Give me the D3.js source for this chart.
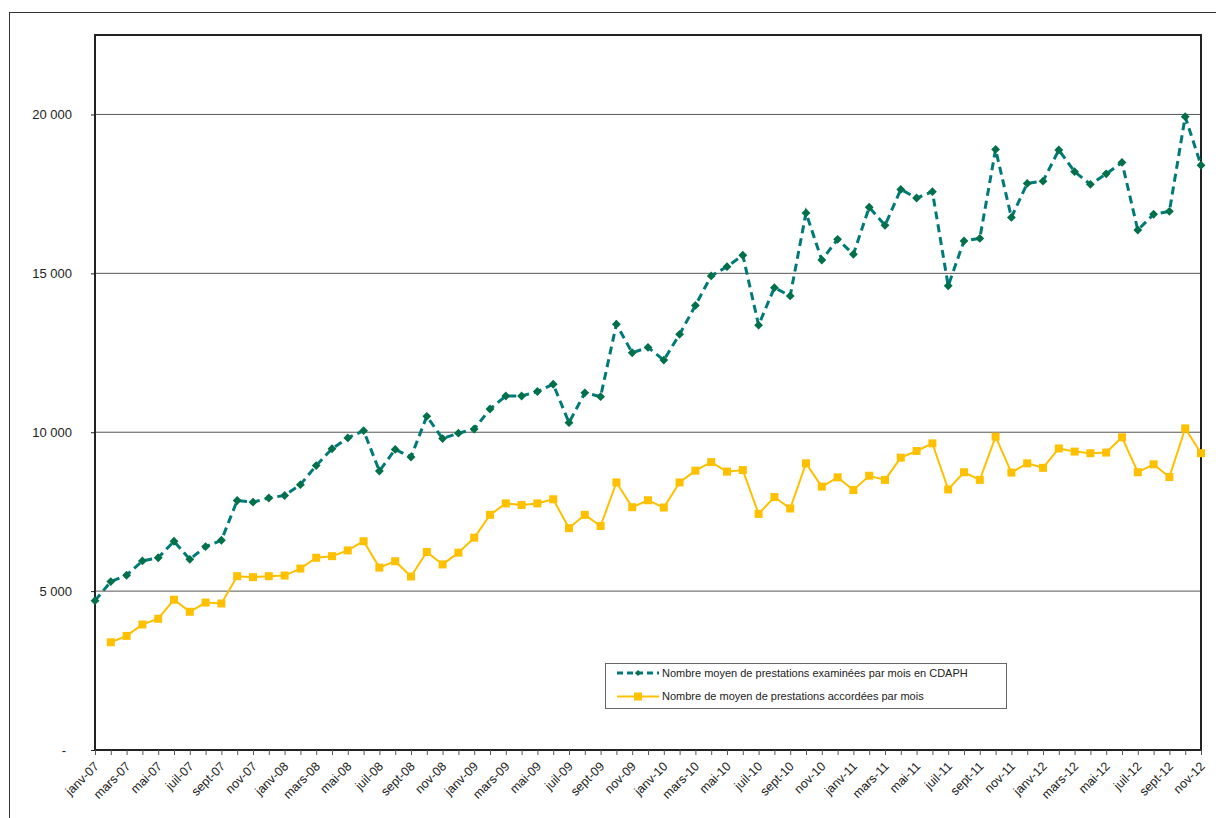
<html lang="fr">
<head>
<meta charset="UTF-8">
<title>Prestations CDAPH</title>
<style>
  body { margin: 0; background: #fff; }
  text { font-family: "Liberation Sans", Arial, sans-serif; fill: #222; }
</style>
</head>
<body>
<script src="https://d3js.org/d3.v7.min.js"></script>
<div id="chart"></div>
<script>
// month labels
var monthNames = ["janv", "févr", "mars", "avr", "mai", "juin", "juil", "août", "sept", "oct", "nov", "déc"];
var years = ["07", "08", "09", "10", "11", "12"];
var nMonths = 71;

// series values
var examinees = [4700, 5300, 5500, 5950, 6050, 6570, 6000, 6400, 6600, 7850, 7800, 7930,
  8010, 8350, 8950, 9480, 9820, 10050, 8780, 9460, 9220, 10500, 9800, 9970,
  10100, 10730, 11140, 11140, 11280, 11510, 10300, 11240, 11120, 13400, 12500, 12670,
  12270, 13080, 13990, 14920, 15210, 15570, 13370, 14550, 14290, 16900, 15420, 16070,
  15600, 17080, 16510, 17640, 17370, 17570, 14610, 16020, 16100, 18900, 16760, 17830,
  17900, 18880, 18200, 17800, 18130, 18490, 16360, 16860, 16950, 19930, 18400];

var accordees = [null, 3390, 3590, 3950, 4130, 4730, 4350, 4640, 4610, 5470, 5440, 5470,
  5490, 5710, 6050, 6100, 6280, 6570, 5740, 5940, 5460, 6230, 5840, 6210,
  6680, 7400, 7760, 7710, 7760, 7890, 6980, 7400, 7050, 8420, 7640, 7860,
  7630, 8420, 8790, 9060, 8760, 8810, 7430, 7960, 7600, 9020, 8290, 8580,
  8180, 8630, 8500, 9200, 9410, 9650, 8200, 8740, 8500, 9860, 8730, 9020,
  8880, 9490, 9390, 9340, 9360, 9840, 8740, 8990, 8590, 10120, 9340];

var yTicks = [0, 5000, 10000, 15000, 20000];
var legendLabels = ["Nombre moyen de prestations examinées par mois en CDAPH",
  "Nombre de moyen de prestations accordées par mois"];

var categories = [];
for (var i = 0; i < nMonths; i++) {
  categories.push(monthNames[i % 12] + "-" + years[Math.floor(i / 12)]);
}

var W = 1216, H = 818;
var margin = {top: 35, right: 15, bottom: 68, left: 95};
var width = W - margin.left - margin.right,
    height = H - margin.top - margin.bottom;

var svg = d3.select("#chart").append("svg")
  .attr("width", W).attr("height", H);

// outer frame
svg.append("rect")
  .attr("x", 9.5).attr("y", 12.5)
  .attr("width", W).attr("height", H)
  .attr("fill", "none").attr("stroke", "#333").attr("stroke-width", 1);

var g = svg.append("g")
  .attr("transform", "translate(" + margin.left + "," + margin.top + ")");

var x = d3.scalePoint().domain(categories).range([0, width]).padding(0);
var y = d3.scaleLinear().domain([0, 22500]).range([height, 0]);

var fr = d3.formatLocale({decimal: ",", thousands: " ", grouping: [3], currency: ["", " €"]});
var fmt = fr.format(",.0f");

// gridlines
g.selectAll(".grid")
  .data(yTicks.filter(function(d) { return d > 0; }))
  .enter().append("line")
    .attr("x1", 0).attr("x2", width)
    .attr("y1", function(d) { return y(d); })
    .attr("y2", function(d) { return y(d); })
    .attr("stroke", "#555").attr("stroke-width", 1);

// plot border
g.append("rect")
  .attr("x", 0).attr("y", 0)
  .attr("width", width).attr("height", height)
  .attr("fill", "none").attr("stroke", "#222").attr("stroke-width", 2);

// Y axis
var yAxis = g.append("g")
  .call(d3.axisLeft(y).tickValues(yTicks).tickSize(4).tickPadding(19)
    .tickFormat(function(d) { return d === 0 ? "-" : fmt(d); }));
yAxis.select(".domain").remove();
yAxis.selectAll("line").attr("stroke", "#222");
yAxis.selectAll("text").attr("font-size", "13px").attr("fill", "#222")
  .attr("font-family", "Liberation Sans, Arial, sans-serif");
yAxis.selectAll("text").filter(function(d) { return d === 0; }).attr("dx", "-6");

// X axis
var xAxis = g.append("g")
  .attr("transform", "translate(0," + height + ")")
  .call(d3.axisBottom(x).tickSize(5)
    .tickFormat(function(d, i) { return i % 2 === 0 ? d : ""; }));
xAxis.select(".domain").remove();
xAxis.selectAll("line").attr("stroke", "#555");
xAxis.selectAll("text")
  .attr("font-size", "12.5px").attr("fill", "#222")
  .attr("font-family", "Liberation Sans, Arial, sans-serif")
  .attr("text-anchor", "end")
  .attr("transform", "translate(1,14)rotate(-45)")
  .attr("dy", "0.35em").attr("y", 0);

// series 1: examinées
var line1 = d3.line()
  .x(function(d, i) { return x(categories[i]); })
  .y(function(d) { return y(d); });

g.append("path")
  .datum(examinees)
  .attr("d", line1)
  .attr("fill", "none")
  .attr("stroke", "#007A78")
  .attr("stroke-width", 3)
  .attr("stroke-dasharray", "8,5");

g.selectAll(".pt1")
  .data(examinees)
  .enter().append("path")
    .attr("d", d3.symbol().type(d3.symbolDiamond2).size(50))
    .attr("transform", function(d, i) { return "translate(" + x(categories[i]) + "," + y(d) + ")"; })
    .attr("fill", "#00704A");

// series 2: accordées
var line2 = d3.line()
  .defined(function(d) { return d !== null; })
  .x(function(d, i) { return x(categories[i]); })
  .y(function(d) { return y(d); });

g.append("path")
  .datum(accordees)
  .attr("d", line2)
  .attr("fill", "none")
  .attr("stroke", "#FFC000")
  .attr("stroke-width", 2);

g.selectAll(".pt2")
  .data(accordees.map(function(d, i) { return {v: d, i: i}; }).filter(function(d) { return d.v !== null; }))
  .enter().append("rect")
    .attr("x", function(d) { return x(categories[d.i]) - 4; })
    .attr("y", function(d) { return y(d.v) - 4; })
    .attr("width", 8).attr("height", 8)
    .attr("fill", "#FFC000");

// legend
var lg = svg.append("g").attr("transform", "translate(605,663)");
lg.append("rect")
  .attr("x", 0.5).attr("y", 0.5).attr("width", 401).attr("height", 45)
  .attr("fill", "#fff").attr("stroke", "#666").attr("stroke-width", 1);

lg.append("line")
  .attr("x1", 12).attr("x2", 54).attr("y1", 10).attr("y2", 10)
  .attr("stroke", "#007A78").attr("stroke-width", 3).attr("stroke-dasharray", "6,4");
lg.append("path")
  .attr("d", d3.symbol().type(d3.symbolDiamond2).size(24))
  .attr("transform", "translate(33,10)").attr("fill", "#00704A");

lg.append("line")
  .attr("x1", 12).attr("x2", 54).attr("y1", 33.5).attr("y2", 33.5)
  .attr("stroke", "#FFC000").attr("stroke-width", 2);
lg.append("rect")
  .attr("x", 29).attr("y", 29.5).attr("width", 8).attr("height", 8).attr("fill", "#FFC000");

lg.selectAll(".lt")
  .data(legendLabels)
  .enter().append("text")
    .attr("x", 57)
    .attr("y", function(d, i) { return 10 + i * 23.5; })
    .attr("dy", "0.35em")
    .attr("font-size", "11px")
    .text(function(d) { return d; });
</script>
</body>
</html>
